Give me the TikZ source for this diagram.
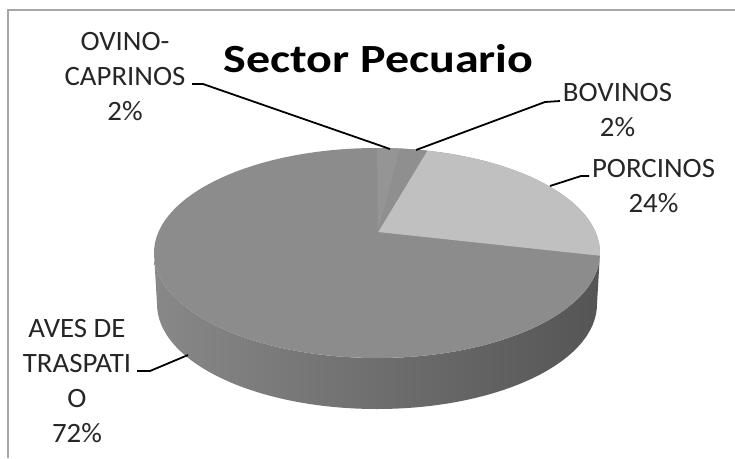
\documentclass[tikz,border=0pt]{standalone}
\usepackage{fontspec}
\setmainfont{Carlito}
\begin{document}
\begin{tikzpicture}[x=1pt,y=-1pt]
\definecolor{framec}{HTML}{A6A6A6}
\definecolor{avesc}{HTML}{8C8C8C}
\definecolor{porcc}{HTML}{C0C0C0}
\definecolor{ovinoc}{HTML}{959595}
\definecolor{bovc}{HTML}{8F8F8F}
\definecolor{sideL}{HTML}{888888}
\definecolor{sideR}{HTML}{555555}
\definecolor{txtc}{HTML}{262626}
\tikzset{
  lbl/.style={anchor=base, inner sep=0pt, text=txtc, xscale=1.03, font=\fontsize{28}{35}\selectfont},
  ttl/.style={anchor=base, inner sep=0pt, text=black, xscale=1.2, font=\fontsize{40}{45}\selectfont\bfseries},
  leader/.style={draw=black, line width=1.8pt},
}
\useasboundingbox (0,0) rectangle (735,458);
\fill[white] (0,0) rectangle (735,458);
\draw[framec, line width=2pt] (7.5,458) -- (7.5,9.5) -- (735,9.5);
% side
\shade[left color=sideL, right color=sideR]
  (600,253) arc[start angle=0, end angle=180, x radius=223, y radius=105]
  -- (157,304) arc[start angle=180, end angle=0, x radius=220, y radius=105] -- cycle;
% top face
\fill[avesc] (377,253) ellipse[x radius=223, y radius=105];
\coordinate (apex) at (378,232);
% porcinos
\fill[porcc] (apex) -- ({377+223*cos(283)},{253+105*sin(283)})
  arc[start angle=283, end angle=361.5, x radius=223, y radius=105] -- cycle;
% ovino
\fill[ovinoc] (apex) -- ({377+223*cos(270)},{253+105*sin(270)})
  arc[start angle=270, end angle=276, x radius=223, y radius=105] -- cycle;
% bovinos
\fill[bovc] (apex) -- ({377+223*cos(276)},{253+105*sin(276)})
  arc[start angle=276, end angle=283, x radius=223, y radius=105] -- cycle;
% title
\node[ttl] (title) at (378.5,72) {Sector Pecuario};
% labels
\node[lbl] (ovino) at (125,50) {\begin{tabular}[t]{@{}c@{}}OVINO-\\CAPRINOS\\2\%\end{tabular}};
\node[lbl] (bovinos) at (617.5,101) {\begin{tabular}[t]{@{}c@{}}BOVINOS\\2\%\end{tabular}};
\node[lbl] (porcinos) at (653.5,177) {\begin{tabular}[t]{@{}c@{}}PORCINOS\\24\%\end{tabular}};
\node[lbl] (aves) at (77,337) {\begin{tabular}[t]{@{}c@{}}AVES DE\\TRASPATI\\O\\72\%\end{tabular}};
% leader lines
\coordinate (ovA) at (192,84);
\coordinate (ovB) at (203,84);
\coordinate (ovC) at (390,149);
\coordinate (boA) at (560,101);
\coordinate (boB) at (545,102);
\coordinate (boC) at (416,150);
\coordinate (poA) at (589,176);
\coordinate (poB) at (581,176);
\coordinate (poC) at (550,186);
\coordinate (avA) at (137,371);
\coordinate (avB) at (150,371);
\coordinate (avC) at (188,355);
\draw[leader] (ovA) -- (ovB) -- (ovC);
\draw[leader] (boA) -- (boB) -- (boC);
\draw[leader] (poA) -- (poB) -- (poC);
\draw[leader] (avA) -- (avB) -- (avC);
\end{tikzpicture}
\end{document}
